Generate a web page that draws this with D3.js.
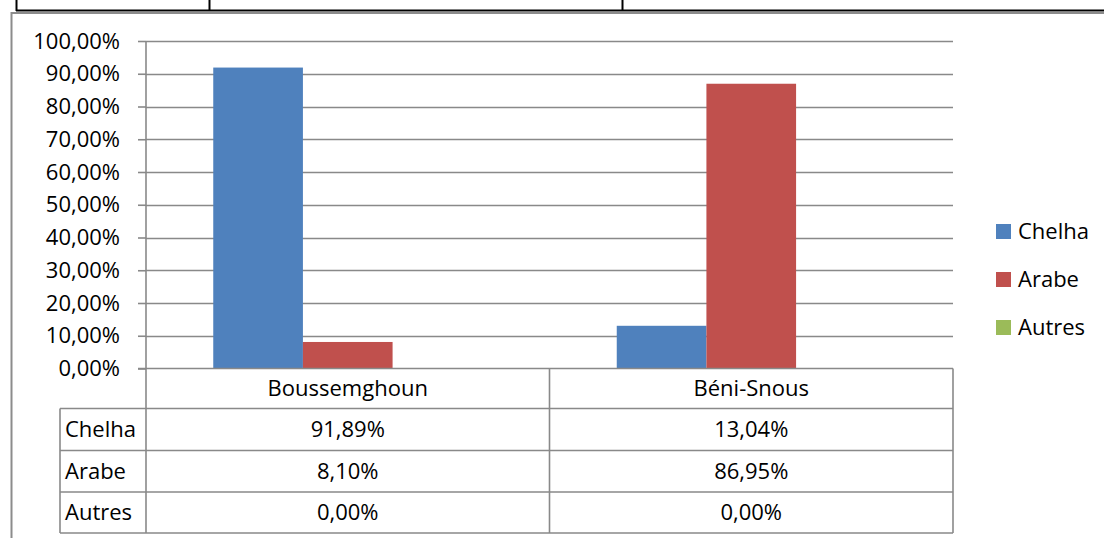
<!DOCTYPE html>
<html>
<head>
<meta charset="utf-8">
<script src="https://cdn.jsdelivr.net/npm/d3@7"></script>
<style>
  html, body { margin: 0; padding: 0; background: #fff; }
  svg { display: block; font-family: "Open Sans", sans-serif; }
</style>
</head>
<body>
<svg id="chart" width="1104" height="538"></svg>
<script>
// Data
const categories = ["Boussemghoun", "Béni-Snous"];
const seriesNames = ["Chelha", "Arabe", "Autres"];
const chelha = [91.89, 13.04];
const arabe = [8.10, 86.95];
const autres = [0.00, 0.00];
const chelhaLabels = ["91,89%", "13,04%"];
const arabeLabels = ["8,10%", "86,95%"];
const autresLabels = ["0,00%", "0,00%"];
const tickValues = [0, 10, 20, 30, 40, 50, 60, 70, 80, 90, 100];
const tickLabels = ["0,00%", "10,00%", "20,00%", "30,00%", "40,00%", "50,00%",
                    "60,00%", "70,00%", "80,00%", "90,00%", "100,00%"];
const colors = ["#4F81BD", "#C0504D", "#9BBB59"];

const seriesValues = [chelha, arabe, autres];
const seriesLabels = [chelhaLabels, arabeLabels, autresLabels];

const svg = d3.select("#chart");
const FS = 22;
const gridColor = "#898989";

// Plot geometry
const plotLeft = 146, plotRight = 953, plotTop = 41, plotBottom = 368.5;
const rowEdges = [368.5, 408.5, 450.5, 492, 533];
const legendColLeft = 60;

// Frame lines from the surrounding document table
const frame = svg.append("g").attr("stroke", "#000").attr("stroke-width", 2);
frame.append("line").attr("x1", 16).attr("x2", 1104).attr("y1", 10.5).attr("y2", 10.5);
[16.5, 209.5, 622.5].forEach(x =>
  frame.append("line").attr("x1", x).attr("x2", x).attr("y1", 0).attr("y2", 11));

// Chart area border
const border = svg.append("g").attr("stroke", "#8c8c8c").attr("stroke-width", 2);
border.append("line").attr("x1", 11).attr("x2", 1104).attr("y1", 13).attr("y2", 13);
border.append("line").attr("x1", 11.5).attr("x2", 11.5).attr("y1", 12).attr("y2", 538);

// Scales
const y = d3.scaleLinear().domain([0, 100]).range([plotBottom, plotTop]);
const x0 = d3.scaleBand().domain(categories).range([plotLeft, plotRight])
  .paddingInner(1 / 3).paddingOuter(1 / 6);
const x1 = d3.scaleBand().domain(seriesNames).range([0, x0.bandwidth()]);

// Gridlines
svg.append("g").selectAll("line").data(tickValues.slice(1)).join("line")
  .attr("x1", plotLeft).attr("x2", plotRight)
  .attr("y1", d => Math.round(y(d)) + 0.5).attr("y2", d => Math.round(y(d)) + 0.5)
  .attr("stroke", gridColor).attr("stroke-width", 1.6);

// Bars
const groups = svg.append("g").selectAll("g").data(categories).join("g")
  .attr("transform", c => `translate(${x0(c)},0)`);
groups.selectAll("rect")
  .data((c, ci) => seriesNames.map((s, si) => ({ s, v: seriesValues[si][ci], color: colors[si] })))
  .join("rect")
  .attr("x", d => x1(d.s))
  .attr("width", x1.bandwidth())
  .attr("y", d => y(d.v))
  .attr("height", d => y(0) - y(d.v))
  .attr("fill", d => d.color);

// Y axis
const yAxis = svg.append("g").attr("transform", `translate(${plotLeft},0)`)
  .call(d3.axisLeft(y).tickValues(tickValues)
    .tickFormat((d, i) => tickLabels[i]).tickSize(8).tickPadding(18));
yAxis.select(".domain").remove();
yAxis.selectAll(".tick line").attr("stroke", gridColor).attr("stroke-width", 1.6);
yAxis.selectAll(".tick text").attr("font-size", FS).attr("fill", "#000")
  .attr("font-family", "Open Sans, sans-serif");

// Data table lines
const tbl = svg.append("g").attr("stroke", gridColor).attr("stroke-width", 1.6).attr("fill", "none");
tbl.append("line").attr("x1", plotLeft).attr("x2", plotLeft).attr("y1", plotTop).attr("y2", rowEdges[4]);
tbl.append("line").attr("x1", plotLeft - 8).attr("x2", plotRight).attr("y1", rowEdges[0]).attr("y2", rowEdges[0]);
rowEdges.slice(1).forEach(ry =>
  tbl.append("line").attr("x1", legendColLeft).attr("x2", plotRight).attr("y1", ry).attr("y2", ry));
tbl.append("line").attr("x1", legendColLeft).attr("x2", legendColLeft).attr("y1", rowEdges[1]).attr("y2", rowEdges[4]);
const catEdges = [plotLeft + (plotRight - plotLeft) / 2, plotRight];
catEdges.forEach(cx =>
  tbl.append("line").attr("x1", cx).attr("x2", cx).attr("y1", rowEdges[0]).attr("y2", rowEdges[4]));

const colCenter = c => x0(c) + x0.bandwidth() / 2;
const rowMid = i => (rowEdges[i] + rowEdges[i + 1]) / 2;

// Category labels
svg.append("g").selectAll("text").data(categories).join("text")
  .attr("x", c => colCenter(c)).attr("y", rowMid(0))
  .attr("dy", "0.35em").attr("text-anchor", "middle")
  .attr("font-size", FS).text(c => c);

// Table rows
seriesNames.forEach((s, si) => {
  svg.append("text").attr("x", legendColLeft + 5).attr("y", rowMid(si + 1))
    .attr("dy", "0.35em").attr("font-size", FS).text(s);
  categories.forEach((c, ci) => {
    svg.append("text").attr("x", colCenter(c)).attr("y", rowMid(si + 1))
      .attr("dy", "0.35em").attr("text-anchor", "middle")
      .attr("font-size", FS).text(seriesLabels[si][ci]);
  });
});

// Legend
const legend = svg.append("g").selectAll("g").data(seriesNames).join("g")
  .attr("transform", (d, i) => `translate(996,${224 + i * 48})`);
legend.append("rect").attr("width", 15).attr("height", 15)
  .attr("fill", (d, i) => colors[i]);
legend.append("text").attr("x", 22).attr("y", 7.5).attr("dy", "0.35em")
  .attr("font-size", FS).text(d => d);
</script>
</body>
</html>
